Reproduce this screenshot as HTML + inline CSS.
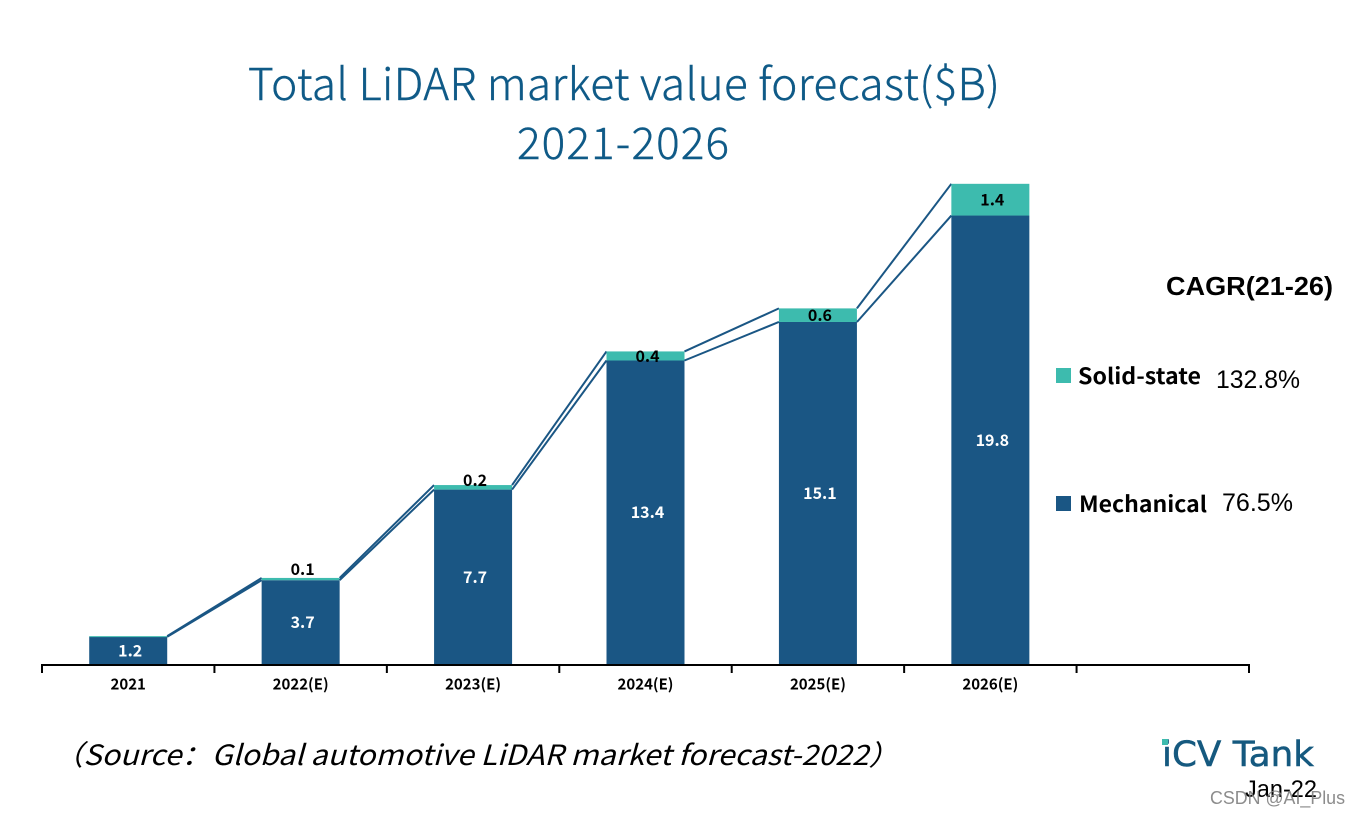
<!DOCTYPE html>
<html lang="en">
<head>
<meta charset="utf-8">
<title>Total LiDAR market value forecast</title>
<style>
html,body{margin:0;padding:0;background:#fff;width:1360px;height:817px;overflow:hidden}
svg{display:block}
.ui{font-family:"Noto Sans CJK SC","Liberation Sans",sans-serif}
.lib{font-family:"Liberation Sans",sans-serif}
</style>
</head>
<body>
<svg id="chart" width="1360" height="817" viewBox="0 0 1360 817" xmlns="http://www.w3.org/2000/svg">
  <rect x="0" y="0" width="1360" height="817" fill="#ffffff"/>
  <text class="ui" x="248" y="100" font-size="44" font-weight="300" fill="#0f5a87" stroke="#0f5a87" stroke-width="0.4" textLength="752" lengthAdjust="spacing">Total LiDAR market value forecast($B)</text>
  <text class="ui" x="517" y="159" font-size="44" font-weight="300" fill="#0f5a87" stroke="#0f5a87" stroke-width="0.4" textLength="212" lengthAdjust="spacing">2021-2026</text>
  <g id="plot"></g>
  <text class="lib" x="1166" y="295" font-size="26" font-weight="700" fill="#000" textLength="167" lengthAdjust="spacingAndGlyphs">CAGR(21-26)</text>
  <rect x="1056" y="368" width="15" height="15" fill="#3dbbae"/>
  <text class="ui" x="1078" y="384" font-size="22" font-weight="700" fill="#000" textLength="123" lengthAdjust="spacingAndGlyphs">Solid-state</text>
  <text class="lib" x="1216" y="388" font-size="25" fill="#000" textLength="84" lengthAdjust="spacingAndGlyphs">132.8%</text>
  <rect x="1056" y="496" width="15" height="15" fill="#1a5684"/>
  <text class="ui" x="1079" y="512" font-size="22" font-weight="700" fill="#000" textLength="128" lengthAdjust="spacingAndGlyphs">Mechanical</text>
  <text class="lib" x="1222" y="511" font-size="25" fill="#000" textLength="71" lengthAdjust="spacingAndGlyphs">76.5%</text>
  <text class="ui" x="53" y="765" font-size="28" font-style="italic" fill="#000" textLength="846" lengthAdjust="spacingAndGlyphs">（Source：Global automotive LiDAR market forecast-2022）</text>
  <g>
    <text font-family="'DejaVu Sans',sans-serif" x="1162" y="766" font-size="35" fill="#15597f" stroke="#15597f" stroke-width="0.5" textLength="152" lengthAdjust="spacingAndGlyphs">iCV Tank</text>
    <rect x="1162" y="739" width="6" height="6" fill="#3dbbae"/>
  </g>
  <text class="lib" x="1245" y="797" font-size="24" fill="#000" textLength="72" lengthAdjust="spacingAndGlyphs">Jan-22</text>
  <text class="lib" x="1210" y="804" font-size="18" fill="#808080" fill-opacity="0.9" textLength="135" lengthAdjust="spacingAndGlyphs">CSDN @AI_Plus</text>
</svg>
<script>
const categories = ['2021', '2022(E)', '2023(E)', '2024(E)', '2025(E)', '2026(E)'];
const mechanical = [1.2, 3.7, 7.7, 13.4, 15.1, 19.8];
const solidState = [0.03, 0.1, 0.2, 0.4, 0.6, 1.4];
const solidLabels = ['', '0.1', '0.2', '0.4', '0.6', '1.4'];

const NS = 'http://www.w3.org/2000/svg';
const plot = document.getElementById('plot');
const axisLeft = 42, axisRight = 1249, baseY = 664;
const slotCount = 7;
const slotW = (axisRight - axisLeft) / slotCount;
const barW = 78;
const pxPerUnit = 22.65;
const xCenter = i => axisLeft + slotW * (i + 0.5);
const yScale = v => baseY - v * pxPerUnit;

function make(tag, attrs, text) {
  const el = document.createElementNS(NS, tag);
  for (const k in attrs) el.setAttribute(k, attrs[k]);
  if (text !== undefined) el.textContent = text;
  plot.appendChild(el);
  return el;
}

function label(text, x, y, size, fill) {
  return make('text', {
    x: x, y: y, 'font-size': size, 'font-weight': 700, fill: fill,
    'text-anchor': 'middle', 'dominant-baseline': 'central',
    'font-family': '"Noto Sans CJK SC","Liberation Sans",sans-serif'
  }, text);
}

categories.forEach((cat, i) => {
  const cx = xCenter(i);
  const mechTop = yScale(mechanical[i]);
  const solidTop = yScale(mechanical[i] + solidState[i]);

  const mechBar = make('rect', {x: cx - barW / 2, y: mechTop, width: barW, height: baseY - mechTop, fill: '#1a5684'});
  
  

  const solidBar = make('rect', {x: cx - barW / 2, y: solidTop, width: barW, height: Math.max(mechTop - solidTop, 1), fill: '#3dbbae'});
  
  

  const mechLabel = label(String(mechanical[i].toFixed(1)), cx + 2, (mechTop + baseY) / 2 - 1, 16, '#ffffff');
  
  

  if (solidLabels[i]) {
    const h = mechTop - solidTop;
    const ly = h < 6 ? solidTop - (14 - 1.8 * h) : (solidTop + mechTop) / 2 - 1;
    const solidLabel = label(solidLabels[i], cx + 2, ly, 16, '#000000');
    
    
  }

  const catLabel = label(cat, cx, 684, 15, '#000000');
  
  

  if (i < categories.length - 1) {
    const x1 = cx + barW / 2, x2 = xCenter(i + 1) - barW / 2;
    const lower = make('line', {x1: x1, y1: mechTop, x2: x2, y2: yScale(mechanical[i + 1]), stroke: '#1a5684', 'stroke-width': 2});
    
    
    const upper = make('line', {x1: x1, y1: solidTop, x2: x2, y2: yScale(mechanical[i + 1] + solidState[i + 1]), stroke: '#1a5684', 'stroke-width': 2});
    
    
  }
});

const axisLine = make('line', {x1: axisLeft - 1, y1: baseY + 1, x2: axisRight + 1, y2: baseY + 1, stroke: '#000', 'stroke-width': 2});



for (let i = 0; i <= slotCount; i++) {
  const tx = axisLeft + slotW * i;
  const tick = make('line', {x1: tx, y1: baseY, x2: tx, y2: baseY + 9, stroke: '#000', 'stroke-width': 2});
  
  
}
</script>
</body>
</html>
